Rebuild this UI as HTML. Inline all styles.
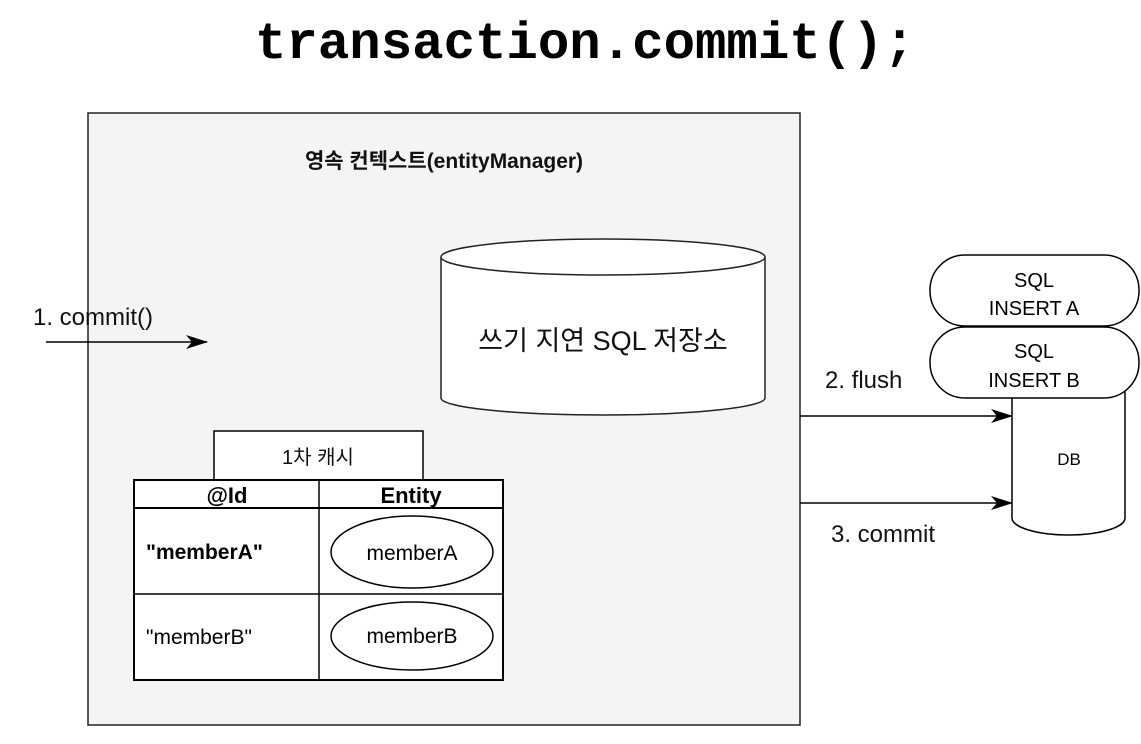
<!DOCTYPE html>
<html><head><meta charset="utf-8"><style>
body{margin:0;background:#fff;}
svg text{font-family:"Liberation Sans","Noto Sans CJK KR",sans-serif;}
</style></head><body>
<svg width="1141" height="739" xmlns="http://www.w3.org/2000/svg">
<defs><marker id="ah" markerWidth="22" markerHeight="14" refX="21" refY="7" orient="auto" markerUnits="userSpaceOnUse"><path d="M0,0 L22,7 L0,14 L6,7 Z" fill="#000"/></marker></defs>
<text x="585" y="58" text-anchor="middle" textLength="660" lengthAdjust="spacingAndGlyphs" style="font-family:'Liberation Mono',monospace;font-weight:bold;font-size:52px">transaction.commit();</text>
<rect x="88" y="113" width="712" height="612" fill="#f4f4f4" stroke="#222" stroke-width="1.5"/>
<text x="444" y="168" text-anchor="middle" font-size="21" font-weight="bold" fill="#111">영속 컨텍스트(entityManager)</text>
<path d="M441,257 L441,398 A162,17 0 0 0 765,398 L765,257" fill="#fff" stroke="#222" stroke-width="1.5"/>
<ellipse cx="603" cy="257" rx="162" ry="18" fill="#fff" stroke="#222" stroke-width="1.5"/>
<text x="603" y="350" text-anchor="middle" font-size="27" fill="#111">쓰기 지연 SQL 저장소</text>
<text x="33" y="325" font-size="24" fill="#111">1. commit()</text>
<line x1="46" y1="342" x2="207" y2="342" stroke="#000" stroke-width="1.5" marker-end="url(#ah)"/>
<rect x="214" y="431" width="209" height="49" fill="#fff" stroke="#000" stroke-width="1.5"/>
<text x="318" y="464" text-anchor="middle" font-size="20" fill="#111">1차 캐시</text>
<rect x="134" y="480" width="369" height="200" fill="#fff" stroke="#000" stroke-width="2"/>
<line x1="134" y1="508" x2="503" y2="508" stroke="#000" stroke-width="2"/>
<line x1="134" y1="594" x2="503" y2="594" stroke="#000" stroke-width="1.5"/>
<line x1="319" y1="480" x2="319" y2="680" stroke="#000" stroke-width="1.5"/>
<text x="227" y="503" text-anchor="middle" font-size="22" font-weight="bold">@Id</text>
<text x="411" y="503" text-anchor="middle" font-size="22" font-weight="bold">Entity</text>
<text x="146" y="559" font-size="21" font-weight="bold">"memberA"</text>
<text x="146" y="644" font-size="21">"memberB"</text>
<ellipse cx="412" cy="552" rx="81" ry="36" fill="#fff" stroke="#000" stroke-width="1.5"/>
<ellipse cx="412" cy="636" rx="81" ry="34" fill="#fff" stroke="#000" stroke-width="1.5"/>
<text x="412" y="560" text-anchor="middle" font-size="21">memberA</text>
<text x="412" y="643" text-anchor="middle" font-size="21">memberB</text>
<path d="M1012,390 L1012,518 A56.5,17 0 0 0 1125,518 L1125,390 Z" fill="#fff" stroke="#000" stroke-width="1.5"/>
<text x="1069" y="465" text-anchor="middle" font-size="17">DB</text>
<rect x="930" y="255" width="209" height="71" rx="35" fill="#fff" stroke="#000" stroke-width="1.5"/>
<text x="1034" y="287" text-anchor="middle" font-size="20">SQL</text>
<text x="1034" y="315" text-anchor="middle" font-size="20">INSERT A</text>
<rect x="930" y="327" width="209" height="71" rx="35" fill="#fff" stroke="#000" stroke-width="1.5"/>
<text x="1034" y="358" text-anchor="middle" font-size="20">SQL</text>
<text x="1034" y="387" text-anchor="middle" font-size="20">INSERT B</text>
<line x1="800" y1="416" x2="1012" y2="416" stroke="#000" stroke-width="1.5" marker-end="url(#ah)"/>
<line x1="800" y1="503" x2="1012" y2="503" stroke="#000" stroke-width="1.5" marker-end="url(#ah)"/>
<text x="825" y="388" font-size="24" fill="#111">2. flush</text>
<text x="831" y="542" font-size="24" fill="#111">3. commit</text>
</svg>
</body></html>
